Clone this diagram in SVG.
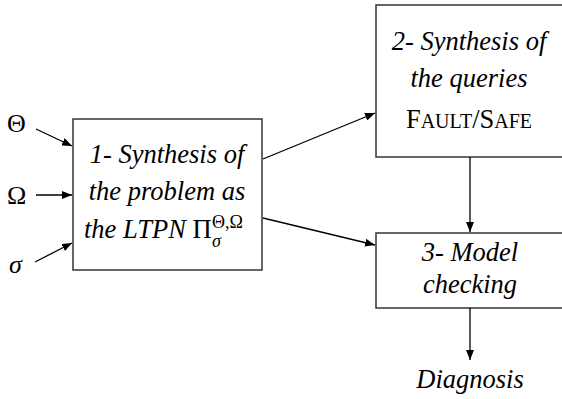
<svg xmlns="http://www.w3.org/2000/svg" width="562" height="399" viewBox="0 0 562 399" font-family="Liberation Serif, Times New Roman, serif">
<defs>
<marker id="ah" viewBox="0 0 10 8" refX="10" refY="4" markerWidth="10" markerHeight="8" markerUnits="userSpaceOnUse" orient="auto">
<path d="M0,0 L10,4 L0,8 z" fill="#000"/>
</marker>
<style>
.box{fill:#fff;stroke:#333;stroke-width:1.5}
.t{font-size:26.5px;font-style:italic;text-anchor:middle;fill:#000}
.ts{font-size:26.5px;font-style:italic;text-anchor:start;fill:#000}
.tu{font-size:26.5px;font-style:normal;text-anchor:middle;fill:#000}
.g{font-size:26px;font-style:normal;fill:#000}
.gi{font-size:26px;font-style:italic;fill:#000}
.c{fill:none;stroke:#000;stroke-width:1.3;marker-end:url(#ah)}
</style>
</defs>
<rect width="562" height="399" fill="#fff"/>
<g id="inputs">
<text class="g" x="7" y="132">Θ</text>
<text class="g" x="7" y="204">Ω</text>
<text class="gi" x="9" y="273">σ</text>
</g>
<g id="node1">
<rect class="box" x="73" y="119" width="189" height="151"/>
<text class="t" x="167" y="163">1- Synthesis of</text>
<text class="t" x="167" y="200">the problem as</text>
<text class="ts" x="84" y="238">the LTPN <tspan style="font-style:normal">Π</tspan><tspan style="font-style:normal;font-size:18px" x="212" dy="-10">Θ,Ω</tspan><tspan style="font-size:18px" x="212" dy="19">σ</tspan></text>
</g>
<g id="node2">
<rect class="box" x="376" y="5" width="190" height="152"/>
<text class="t" x="469" y="50">2- Synthesis of</text>
<text class="t" x="469" y="87">the queries</text>
<text class="tu" x="469" y="128">F<tspan style="font-size:20px">AULT</tspan>/S<tspan style="font-size:20px">AFE</tspan></text>
</g>
<g id="node3">
<rect class="box" x="376" y="233" width="190" height="75"/>
<text class="t" x="470" y="261">3- Model</text>
<text class="t" x="470" y="293">checking</text>
</g>
<g id="output">
<text class="t" x="470" y="388">Diagnosis</text>
</g>
<g id="connectors">
<line class="c" x1="36" y1="129" x2="72" y2="146"/>
<line class="c" x1="36" y1="195" x2="72" y2="195"/>
<line class="c" x1="35" y1="262" x2="72" y2="243"/>
<line class="c" x1="263" y1="159" x2="375" y2="113"/>
<line class="c" x1="263" y1="218" x2="375" y2="245"/>
<line class="c" x1="470" y1="157" x2="470" y2="232"/>
<line class="c" x1="470" y1="308" x2="470" y2="360"/>
</g>
</svg>
